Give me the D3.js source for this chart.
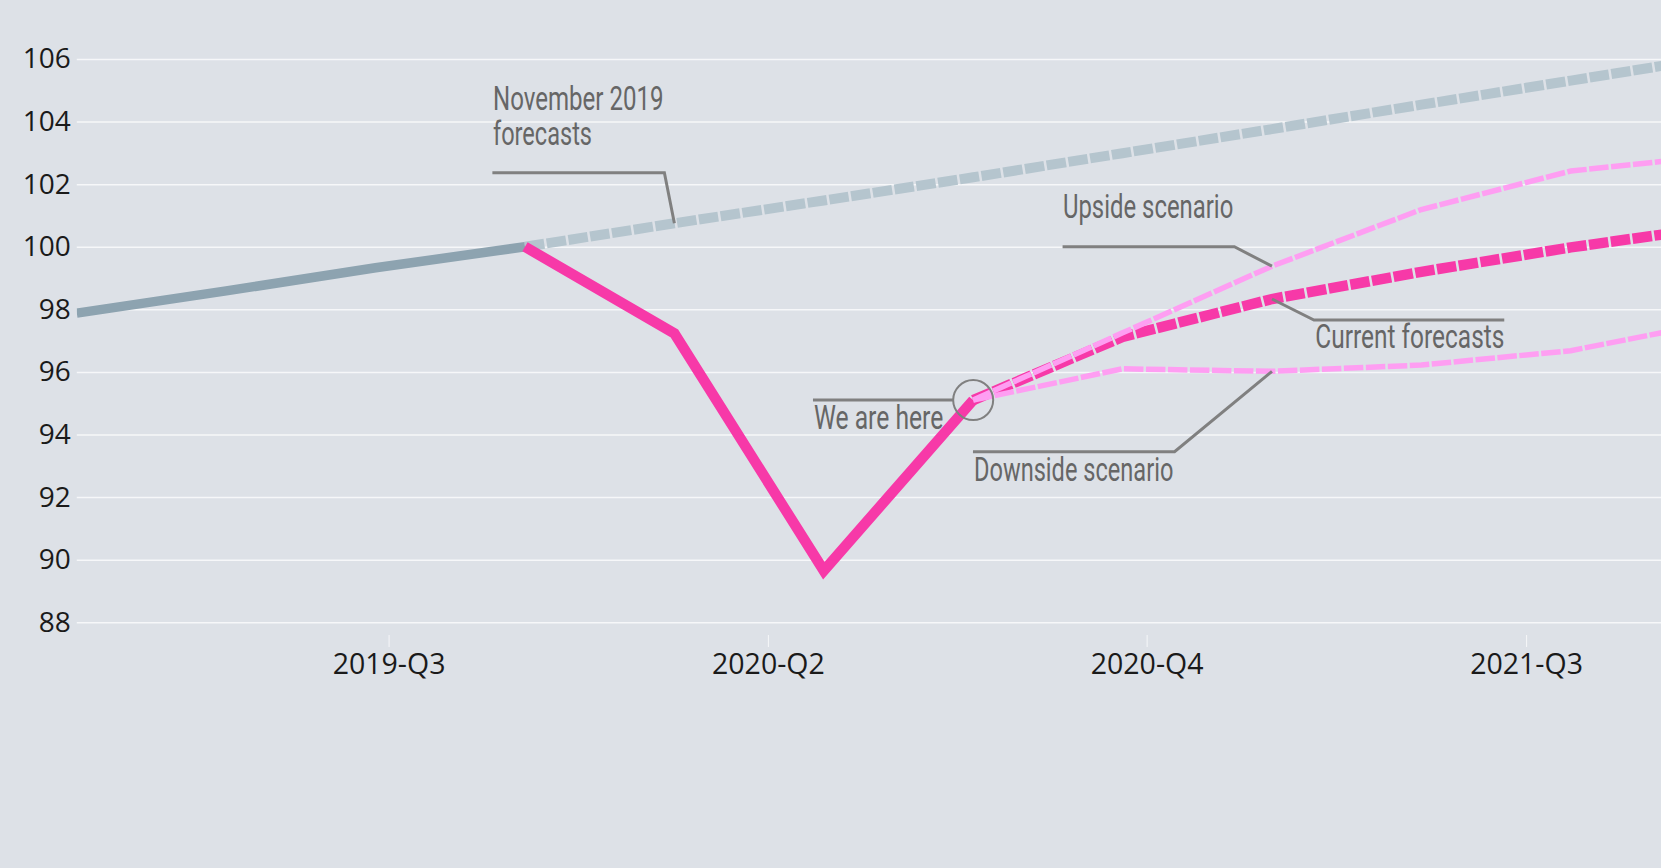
<!DOCTYPE html>
<html>
<head>
<meta charset="utf-8">
<script src="https://cdn.jsdelivr.net/npm/d3@7"></script>
<style>
  html, body { margin: 0; padding: 0; background: #dde1e7; }
  svg { display: block; }
</style>
</head>
<body>
<script>
// ---------------- DATA ----------------
const quarters = ["2019-Q1","2019-Q2","2019-Q3","2019-Q4","2020-Q1","2020-Q2","2020-Q3","2020-Q4","2021-Q1","2021-Q2","2021-Q3","2021-Q4"];
// outturn before the shock (2019-Q1 .. 2019-Q4)
const outturnPre = [97.88, 98.59, 99.33, 100];
// outturn through the shock (2019-Q4 .. 2020-Q3)
const outturnCovid = [100, 97.23, 89.65, 95.1];
// November 2019 forecasts (2019-Q4 .. 2021-Q4)
const nov2019 = [100, 100.75, 101.48, 102.22, 102.99, 103.76, 104.54, 105.31, 106.08];
// current forecasts & scenarios (2020-Q3 .. 2021-Q4)
const currentFc = [95.1, 97.12, 98.33, 99.2, 99.98, 100.65];
const upsideFc = [95.1, 97.25, 99.38, 101.19, 102.42, 102.92];
const downsideFc = [95.1, 96.1, 96.02, 96.22, 96.68, 97.62];
// axes
const yTicks = [88, 90, 92, 94, 96, 98, 100, 102, 104, 106];
const xTickValues = [2.087, 4.626, 7.161, 9.701];
const xTickLabels = ["2019-Q3", "2020-Q2", "2020-Q4", "2021-Q3"];

(function () {
// ---------------- LAYOUT ----------------
const W = 1661, H = 868;
const mLeft = 76.8, mRight = 1660.4, mTop = 59, mBottom = 622.3;
const svg = d3.select("body").append("svg").attr("width", W).attr("height", H);
svg.append("rect").attr("width", W).attr("height", H).attr("fill", "#dde1e7");

const x = d3.scaleLinear().domain([0, 10.6]).range([mLeft, mRight]);
const y = d3.scaleLinear().domain([88, 106]).range([mBottom, mTop]);

// y axis + gridlines
const yAxis = svg.append("g").attr("transform", `translate(${mLeft},0)`)
  .call(d3.axisLeft(y).tickValues(yTicks).tickSize(-(W - mLeft)).tickPadding(6).tickFormat(d3.format("d")));
yAxis.select(".domain").remove();
yAxis.selectAll(".tick line").attr("stroke", "#f6f7f9").attr("stroke-width", 1.5);
yAxis.selectAll(".tick text").attr("fill", "#1a1a1a")
  .style("font-family", "'Open Sans', 'Noto Sans', sans-serif").style("font-size", "28px");

// x axis
const xAxis = svg.append("g").attr("transform", `translate(0,635)`)
  .call(d3.axisBottom(x).tickValues(xTickValues).tickSize(12).tickPadding(7)
    .tickFormat((d, i) => xTickLabels[i]));
xAxis.select(".domain").remove();
xAxis.selectAll(".tick line").attr("stroke", "#f6f7f9").attr("stroke-width", 1);
xAxis.selectAll(".tick text").attr("fill", "#1a1a1a")
  .style("font-family", "'Open Sans', 'Noto Sans', sans-serif").style("font-size", "28.5px");

// clip
svg.append("clipPath").attr("id", "plotclip").append("rect")
  .attr("x", mLeft).attr("y", 0).attr("width", W - mLeft).attr("height", H);
const plot = svg.append("g").attr("clip-path", "url(#plotclip)");

const line = d3.line().x(d => x(d.q)).y(d => y(d.v));
const series = (arr, startQ) => arr.map((v, i) => ({ q: startQ + i, v }));
const qi = lbl => quarters.indexOf(lbl);

// November 2019 forecasts (dashed grey)
plot.append("path").datum(series(nov2019, qi("2019-Q4")))
  .attr("d", line).attr("fill", "none").attr("stroke", "#b5c5ce")
  .attr("stroke-width", 10).attr("stroke-dasharray", "19.5,2.5");
// outturn grey
plot.append("path").datum(series(outturnPre, qi("2019-Q1")))
  .attr("d", line).attr("fill", "none").attr("stroke", "#8da3b0").attr("stroke-width", 9.5);
// current forecasts (thick dashed pink)
plot.append("path").datum(series(currentFc, qi("2020-Q3")))
  .attr("d", line).attr("fill", "none").attr("stroke", "#f739a8")
  .attr("stroke-width", 10.5).attr("stroke-dasharray", "19.5,2.5");
// outturn pink
plot.append("path").datum(series(outturnCovid, qi("2019-Q4")))
  .attr("d", line).attr("fill", "none").attr("stroke", "#f739a8").attr("stroke-width", 10.5);
// scenarios
[upsideFc, downsideFc].forEach(arr => {
  plot.append("path").datum(series(arr, qi("2020-Q3")))
    .attr("d", line).attr("fill", "none").attr("stroke", "#fe9ef2")
    .attr("stroke-width", 5.5).attr("stroke-dasharray", "19.5,2.5");
});

// ---------------- ANNOTATIONS ----------------
const annFont = "Roboto, 'Liberation Sans', sans-serif";
const annotations = [
  { q: qi("2020-Q1"), v: nov2019[1], path: [[0, 0], [-10, -50.5], [-182, -50.5]],
    lines: [{ t: "November 2019", dx: -181.4, dy: -113.7, w: 170.5 }, { t: "forecasts", dx: -181.4, dy: -78.2, w: 99 }] },
  { q: qi("2021-Q1"), v: upsideFc[2], path: [[0, 0], [-37.6, -19.4], [-209.4, -19.4]],
    lines: [{ t: "Upside scenario", dx: -209, dy: -47.8, w: 170.3 }] },
  { q: qi("2021-Q1"), v: currentFc[2], path: [[0, 0], [42, 21], [232.3, 21]],
    lines: [{ t: "Current forecasts", dx: 43.4, dy: 49.3, w: 189 }] },
  { q: qi("2021-Q1"), v: downsideFc[2], path: [[0, 0], [-97.4, 80.4], [-299, 80.4]],
    lines: [{ t: "Downside scenario", dx: -298, dy: 109.7, w: 199.4 }] },
  { q: qi("2020-Q3"), v: outturnCovid[3], circle: 20, path: [[-20, 0], [-160.2, 0]],
    lines: [{ t: "We are here", dx: -159.2, dy: 29.2, w: 129.3 }] }
];
const ann = svg.append("g");
annotations.forEach(a => {
  const ax = x(a.q), ay = y(a.v);
  ann.append("path")
    .attr("d", d3.line()(a.path.map(p => [ax + p[0], ay + p[1]])))
    .attr("fill", "none").attr("stroke", "#808080").attr("stroke-width", 3);
  if (a.circle) {
    ann.append("circle").attr("cx", ax).attr("cy", ay).attr("r", a.circle)
      .attr("fill", "none").attr("stroke", "#808080").attr("stroke-width", 2);
  }
  a.lines.forEach(l => {
    ann.append("text").attr("x", ax + l.dx).attr("y", ay + l.dy)
      .attr("textLength", l.w).attr("lengthAdjust", "spacingAndGlyphs")
      .attr("fill", "#666666")
      .style("font-family", annFont).style("font-size", "33.5px").style("font-weight", 400)
      .text(l.t);
  });
});
})();
</script>
</body>
</html>
